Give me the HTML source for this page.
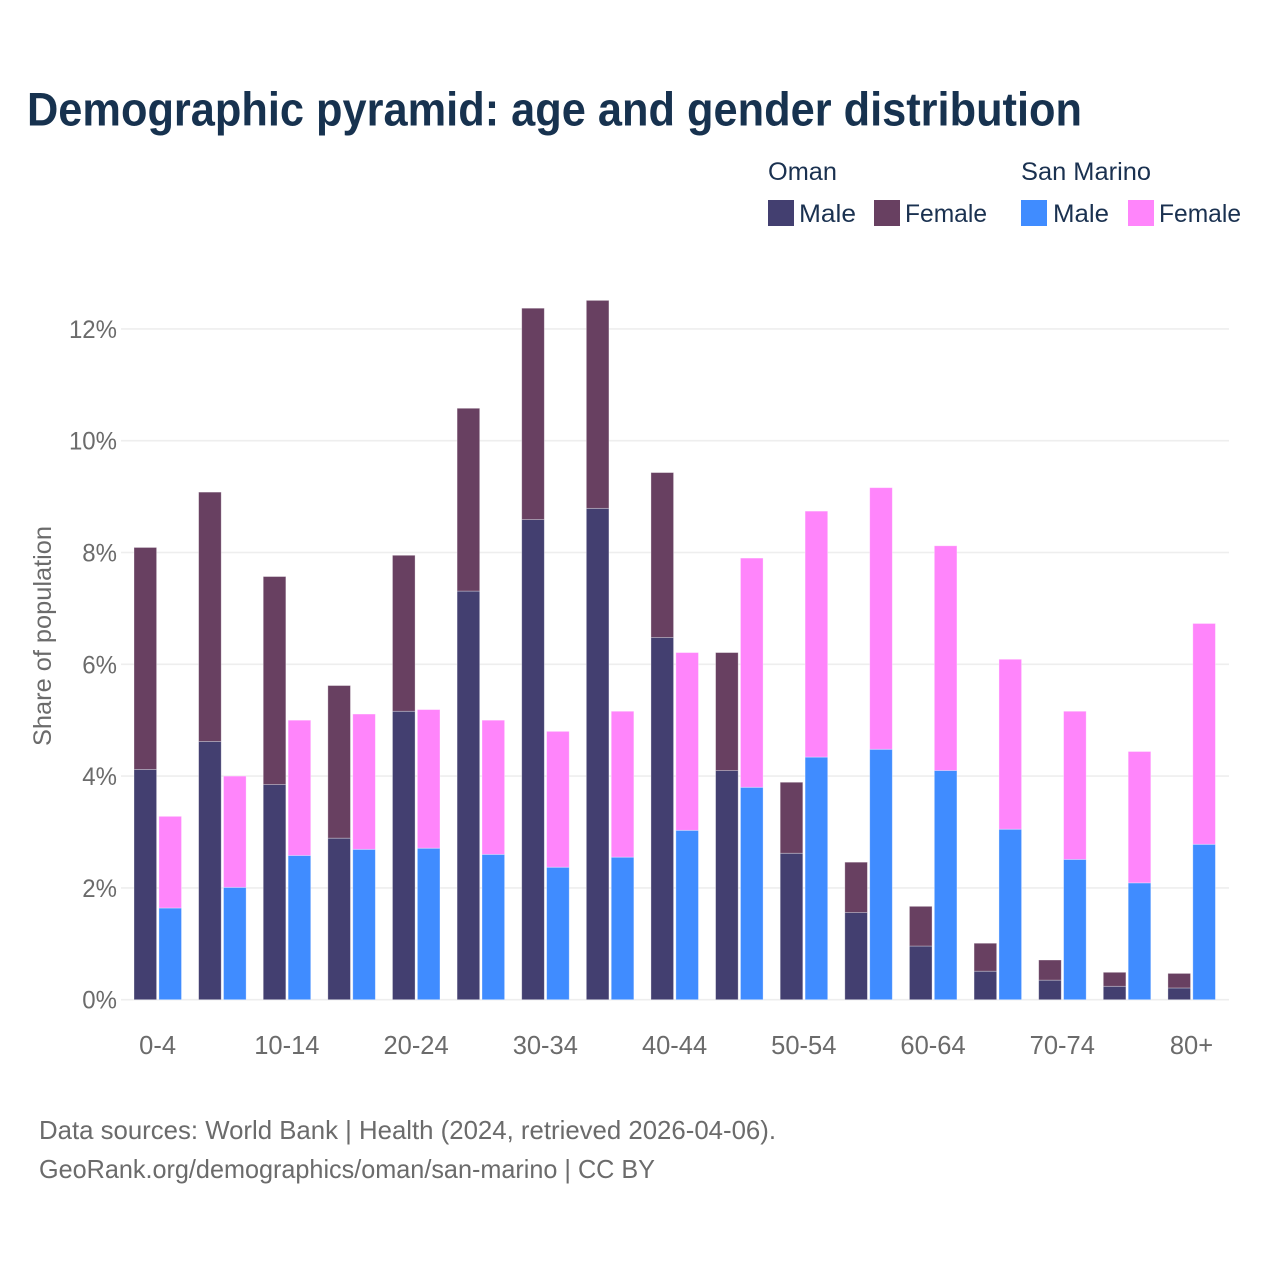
<!DOCTYPE html>
<html lang="en">
<head>
<meta charset="utf-8">
<title>Demographic pyramid</title>
<style>
html,body{margin:0;padding:0;background:#fff;width:1280px;height:1280px;overflow:hidden}
svg{display:block}
text{font-family:"Liberation Sans",sans-serif}
</style>
</head>
<body>
<svg id="chart" xmlns="http://www.w3.org/2000/svg" width="1280" height="1280" viewBox="0 0 1280 1280">
  <rect x="0" y="0" width="1280" height="1280" fill="#ffffff"/>
  <text x="27" y="125.5" font-size="47" font-weight="700" fill="#17324f" textLength="1055" lengthAdjust="spacingAndGlyphs">Demographic pyramid: age and gender distribution</text>

  <g font-size="25" fill="#1a3150">
    <text x="768" y="180" textLength="69" lengthAdjust="spacingAndGlyphs">Oman</text>
    <text x="1021" y="180" textLength="130" lengthAdjust="spacingAndGlyphs">San Marino</text>
    <rect x="768" y="200" width="26" height="26" fill="#433f70"/>
    <text x="799" y="222" textLength="57" lengthAdjust="spacingAndGlyphs">Male</text>
    <rect x="874" y="200" width="26" height="26" fill="#684061"/>
    <text x="905" y="222" textLength="82" lengthAdjust="spacingAndGlyphs">Female</text>
    <rect x="1021" y="200" width="26" height="26" fill="#408cff"/>
    <text x="1053" y="222" textLength="56" lengthAdjust="spacingAndGlyphs">Male</text>
    <rect x="1128" y="200" width="26" height="26" fill="#ff85fb"/>
    <text x="1159" y="222" textLength="82" lengthAdjust="spacingAndGlyphs">Female</text>
  </g>

  <g id="grid"></g>
  <g id="yticks"></g>
  <g id="bars"></g>
  <g id="xticks"></g>

  <text transform="translate(51 746) rotate(-90)" x="0" y="0" font-size="25" fill="#6b6b6b" textLength="220" lengthAdjust="spacingAndGlyphs">Share of population</text>

  <text x="39" y="1139" font-size="26" fill="#6b6b6b" textLength="737" lengthAdjust="spacingAndGlyphs">Data sources: World Bank | Health (2024, retrieved 2026-04-06).</text>
  <text x="39" y="1178" font-size="26" fill="#6b6b6b" textLength="616" lengthAdjust="spacingAndGlyphs">GeoRank.org/demographics/oman/san-marino | CC BY</text>
</svg>
<script>
const ageGroups = ["0-4","5-9","10-14","15-19","20-24","25-29","30-34","35-39","40-44","45-49","50-54","55-59","60-64","65-69","70-74","75-79","80+"];
const shownAgeLabels = ["0-4","10-14","20-24","30-34","40-44","50-54","60-64","70-74","80+"];
const omanMale = [4.12,4.62,3.85,2.89,5.16,7.31,8.59,8.79,6.48,4.10,2.62,1.56,0.96,0.51,0.35,0.24,0.21];
const omanFemale = [3.97,4.46,3.72,2.73,2.79,3.27,3.78,3.72,2.95,2.11,1.27,0.90,0.71,0.50,0.36,0.25,0.26];
const sanMarinoMale = [1.64,2.01,2.58,2.69,2.71,2.60,2.37,2.55,3.03,3.80,4.34,4.48,4.10,3.05,2.51,2.09,2.78];
const sanMarinoFemale = [1.64,1.99,2.42,2.42,2.48,2.40,2.43,2.61,3.18,4.10,4.40,4.68,4.02,3.04,2.65,2.35,3.95];
const yTicks = [0,2,4,6,8,10,12];

const SVGNS = "http://www.w3.org/2000/svg";
function yScale(v){ return 999.7 - v * 55.9; }
function xBand(i){ return 134 + i * 64.62; }
const BAR_W = 22.6;
const BAR_OFFSET = 24.9;

const gridG = document.getElementById("grid");
const yG = document.getElementById("yticks");
yTicks.forEach(function(t){
  const line = document.createElementNS(SVGNS,"line");
  line.setAttribute("x1",121);
  line.setAttribute("x2",1229);
  line.setAttribute("y1",yScale(t));
  line.setAttribute("y2",yScale(t));
  line.setAttribute("stroke","#eeeeee");
  line.setAttribute("stroke-width",1.6);
  
  
  gridG.appendChild(line);

  const label = document.createElementNS(SVGNS,"text");
  label.setAttribute("x",117);
  label.setAttribute("y",yScale(t)+9);
  label.setAttribute("text-anchor","end");
  label.setAttribute("font-size",25);
  label.setAttribute("fill","#6b6b6b");
  label.textContent = t + "%";
  
  
  yG.appendChild(label);
  label.setAttribute("textLength", label.getComputedTextLength() * 0.96);
  label.setAttribute("lengthAdjust", "spacingAndGlyphs");
});

const barsG = document.getElementById("bars");
function addBar(x, base, value, color){
  const r = document.createElementNS(SVGNS,"rect");
  r.setAttribute("x",x);
  r.setAttribute("y",yScale(base+value));
  r.setAttribute("width",BAR_W);
  r.setAttribute("height",yScale(base)-yScale(base+value));
  r.setAttribute("fill",color);
  r.setAttribute("stroke","#ffffff");
  r.setAttribute("stroke-opacity","0.4");
  r.setAttribute("stroke-width","0.8");
  
  
  barsG.appendChild(r);
}
ageGroups.forEach(function(g,i){
  const x = xBand(i);
  addBar(x, 0, omanMale[i], "#433f70");
  addBar(x, omanMale[i], omanFemale[i], "#684061");
  addBar(x+BAR_OFFSET, 0, sanMarinoMale[i], "#408cff");
  addBar(x+BAR_OFFSET, sanMarinoMale[i], sanMarinoFemale[i], "#ff85fb");
});

const xG = document.getElementById("xticks");
shownAgeLabels.forEach(function(name){
  const i = ageGroups.indexOf(name);
  const t = document.createElementNS(SVGNS,"text");
  t.setAttribute("x",xBand(i)+23.6);
  t.setAttribute("y",1054);
  t.setAttribute("text-anchor","middle");
  t.setAttribute("font-size",25.5);
  t.setAttribute("fill","#6b6b6b");
  t.textContent = name;
  
  
  xG.appendChild(t);
});
</script>
</body>
</html>
